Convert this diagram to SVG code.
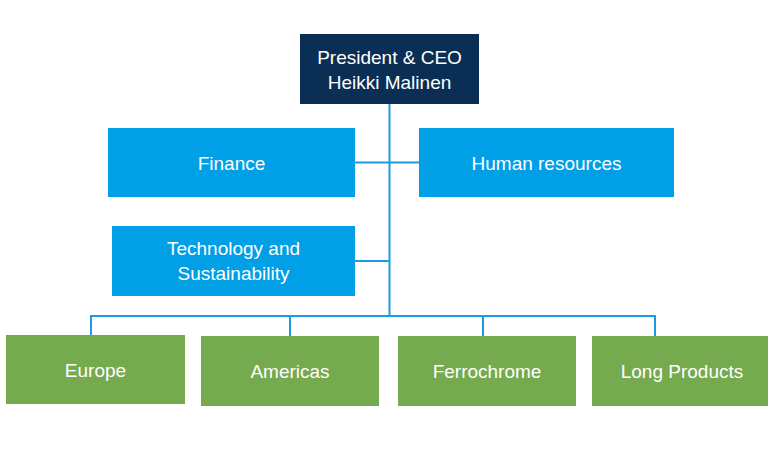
<svg xmlns="http://www.w3.org/2000/svg" width="768" height="456" viewBox="0 0 768 456">
<style>
.ceo{fill:#0b2e54}
.staff{fill:#009fe6}
.unit{fill:#76aa4e}
text{font-family:"Liberation Sans",Arial,sans-serif;font-size:19px;fill:#ffffff;text-anchor:middle;dominant-baseline:central}
.conn{stroke:#1a9ce2;stroke-width:2;fill:none}
</style>
<rect width="768" height="456" fill="#ffffff"/>
<g id="connectors">
<path class="conn" d="M389.5,104 V316"/>
<path class="conn" d="M355,162.5 H419"/>
<path class="conn" d="M355,261 H389.5"/>
<path class="conn" d="M91,335 V316 H655 V336"/>
<path class="conn" d="M290,316 V336"/>
<path class="conn" d="M483,316 V336"/>
</g>
<g id="ceo"><rect class="ceo" x="300" y="34" width="179" height="70"/><text x="389.5" y="57">President &amp; CEO</text><text x="389.5" y="82">Heikki Malinen</text></g>
<g id="finance"><rect class="staff" x="108" y="128" width="247" height="69"/><text x="231.5" y="163">Finance</text></g>
<g id="hr"><rect class="staff" x="419" y="128" width="255" height="69"/><text x="546.5" y="163">Human resources</text></g>
<g id="tech"><rect class="staff" x="112" y="226" width="243" height="70"/><text x="233.5" y="248">Technology and</text><text x="233.5" y="273">Sustainability</text></g>
<g id="europe"><rect class="unit" x="6" y="335" width="179" height="69"/><text x="95.5" y="370">Europe</text></g>
<g id="americas"><rect class="unit" x="201" y="336" width="178" height="70"/><text x="290" y="371">Americas</text></g>
<g id="ferrochrome"><rect class="unit" x="398" y="336" width="178" height="70"/><text x="487" y="371">Ferrochrome</text></g>
<g id="long-products"><rect class="unit" x="592" y="336" width="176" height="70"/><text x="682" y="371">Long Products</text></g>
</svg>
